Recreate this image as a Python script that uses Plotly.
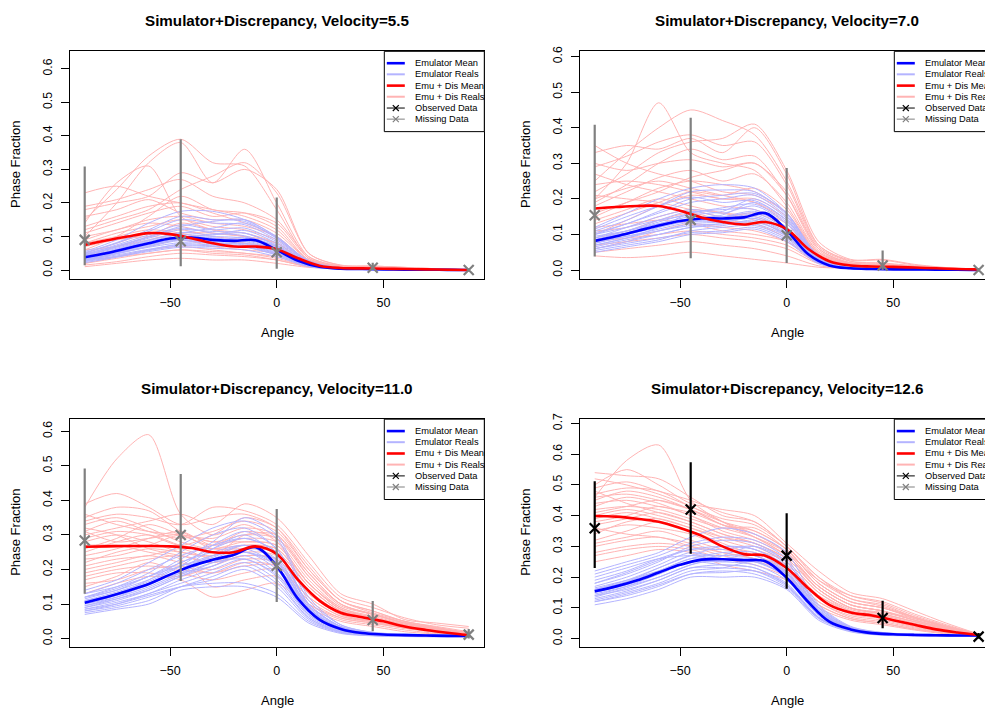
import plotly.graph_objects as go

FONT = "Liberation Sans, Arial, Helvetica, sans-serif"
W, H = 985, 711

# ---------------- data ----------------
mean_angles = [-90, -80, -70, -60, -50, -40, -30, -20, -10, 0, 10, 20, 30, 40, 50, 60, 70, 80, 90]
real_angles = [-90, -75, -60, -45, -30, -15, 0, 15, 30, 45, 60, 75, 90]
obs_angles = [-90, -45, 0, 45, 90]
velocities = ["5.5", "7.0", "11.0", "12.6"]
legend_labels = ["Emulator Mean", "Emulator Reals", "Emu + Dis Mean", "Emu + Dis Reals",
                 "Observed Data", "Missing Data"]
x_ticks = [-50, 0, 50]

# ---- Velocity 5.5 ----
v55_emu_mean = [.038, .05, .065, .08, .094, .097, .09, .087, .089, .06, .028, .01, .004, .003, .002, .001, .001, .0005, 0]
v55_dis_mean = [.075, .088, .10, .11, .107, .095, .08, .07, .07, .062, .035, .013, .006, .005, .004, .003, .002, .001, 0]
v55_emu_reals = [
    [.030, .045, .062, .075, .072, .070, .045, .012, .003, .002, .001, .001, 0],
    [.045, .068, .095, .120, .115, .110, .075, .022, .005, .003, .002, .001, 0],
    [.025, .040, .055, .068, .065, .060, .040, .010, .003, .002, .001, .001, 0],
    [.050, .080, .115, .150, .140, .135, .090, .025, .006, .003, .002, .001, 0],
    [.035, .055, .078, .095, .088, .092, .062, .018, .004, .003, .001, .001, 0],
    [.040, .060, .085, .105, .100, .095, .066, .020, .005, .003, .002, .001, 0],
    [.028, .048, .070, .088, .078, .080, .055, .016, .004, .002, .001, .001, 0],
    [.055, .090, .140, .175, .175, .150, .100, .028, .006, .004, .002, .001, 0],
    [.033, .050, .068, .082, .085, .098, .070, .020, .004, .003, .001, .001, 0],
    [.042, .065, .090, .110, .125, .140, .095, .026, .006, .003, .002, .001, 0],
    [.030, .052, .075, .090, .080, .075, .050, .014, .003, .002, .001, .001, 0],
    [.048, .072, .100, .130, .145, .150, .098, .027, .006, .004, .002, .001, 0],
    [.022, .038, .058, .072, .070, .068, .045, .012, .003, .002, .001, .001, 0],
    [.038, .062, .088, .112, .105, .118, .080, .022, .005, .003, .002, .001, 0],
    [.036, .058, .082, .100, .096, .085, .058, .016, .004, .002, .001, .001, 0],
    [.044, .070, .098, .125, .110, .102, .070, .020, .005, .003, .002, .001, 0],
    [.032, .050, .072, .092, .090, .088, .060, .017, .004, .002, .001, .001, 0],
    [.046, .075, .105, .135, .120, .125, .085, .024, .005, .003, .002, .001, 0],
    [.027, .042, .060, .078, .075, .072, .048, .013, .003, .002, .001, .001, 0],
    [.039, .058, .080, .098, .105, .110, .072, .020, .005, .003, .001, .001, 0],
    [.052, .082, .120, .160, .150, .145, .095, .026, .006, .003, .002, .001, 0],
    [.034, .054, .076, .094, .082, .078, .052, .015, .004, .002, .001, .001, 0],
]
v55_dis_reals = [
    [.10, .20, .32, .38, .26, .36, .20, .04, .012, .010, .007, .004, .001],
    [.15, .24, .34, .39, .32, .31, .18, .035, .012, .010, .006, .003, .001],
    [.14, .26, .31, .16, .12, .10, .07, .02, .008, .006, .004, .002, .001],
    [.23, .25, .22, .20, .18, .16, .12, .03, .010, .008, .005, .003, .001],
    [.18, .20, .22, .29, .26, .30, .24, .05, .015, .012, .008, .004, .001],
    [.06, .10, .16, .22, .18, .17, .13, .03, .010, .008, .005, .003, .001],
    [.02, .04, .06, .07, .06, .05, .04, .012, .005, .004, .003, .002, 0],
    [.01, .02, .03, .035, .03, .03, .02, .008, .004, .003, .002, .001, 0],
    [.09, .12, .14, .13, .11, .10, .08, .02, .008, .006, .004, .002, .001],
    [.05, .08, .11, .12, .10, .09, .07, .02, .007, .005, .003, .002, 0],
    [.03, .05, .07, .09, .07, .06, .05, .015, .006, .005, .003, .002, 0],
    [.13, .16, .19, .20, .17, .14, .10, .025, .010, .007, .005, .002, .001],
    [.015, .025, .04, .05, .045, .04, .03, .01, .005, .004, .002, .001, 0],
    [.07, .09, .10, .09, .08, .07, .06, .018, .007, .005, .003, .002, 0],
    [.11, .14, .17, .19, .16, .17, .14, .035, .010, .008, .005, .003, .001],
    [.04, .06, .08, .10, .09, .08, .06, .018, .007, .006, .004, .002, 0],
    [.08, .11, .13, .15, .13, .12, .09, .022, .008, .006, .004, .002, .001],
    [.02, .035, .05, .06, .055, .05, .035, .01, .005, .004, .003, .002, 0],
    [.19, .21, .24, .27, .22, .20, .15, .04, .012, .01, .006, .003, .001],
    [.12, .15, .18, .24, .28, .32, .23, .05, .014, .012, .008, .004, .001],
    [.06, .07, .09, .11, .11, .10, .08, .02, .008, .006, .004, .002, 0],
    [.03, .04, .05, .06, .05, .045, .03, .01, .005, .004, .003, .002, 0],
    [.16, .18, .21, .17, .15, .15, .11, .03, .01, .008, .005, .003, .001],
    [.10, .12, .15, .16, .14, .13, .10, .025, .009, .007, .004, .002, .001],
    [.04, .07, .10, .14, .12, .11, .08, .02, .008, .006, .004, .002, 0],
    [.08, .10, .12, .11, .09, .08, .065, .018, .007, .005, .003, .002, 0],
]
v55_obs = [.09, .086, .053, .007, .0]
v55_obs_hi = [.309, .39, .216, .022, .003]
v55_obs_lo = [.014, .011, .004, .0, .0]

# ---- Velocity 7.0 ----
v70_emu_mean = [.082, .095, .11, .125, .138, .145, .145, .148, .16, .112, .045, .013, .005, .003, .002, .002, .001, .001, 0]
v70_dis_mean = [.173, .177, .18, .18, .167, .148, .135, .128, .135, .115, .06, .025, .013, .01, .009, .007, .005, .003, .002]
v70_emu_reals = [
    [.06, .075, .09, .105, .11, .12, .085, .02, .004, .002, .001, .001, 0],
    [.10, .13, .16, .19, .20, .21, .15, .035, .006, .003, .002, .001, 0],
    [.07, .09, .11, .125, .13, .135, .10, .022, .005, .003, .002, .001, 0],
    [.12, .16, .20, .23, .24, .23, .16, .04, .007, .004, .002, .001, 0],
    [.05, .065, .08, .10, .105, .115, .08, .018, .004, .002, .001, .001, 0],
    [.085, .105, .13, .15, .15, .165, .12, .028, .005, .003, .002, .001, 0],
    [.09, .12, .15, .17, .16, .18, .13, .03, .006, .003, .002, .001, 0],
    [.075, .095, .115, .135, .14, .15, .11, .025, .005, .003, .002, .001, 0],
    [.11, .14, .18, .22, .225, .22, .155, .038, .007, .004, .002, .001, 0],
    [.065, .085, .10, .12, .125, .14, .095, .021, .004, .002, .001, .001, 0],
    [.08, .10, .12, .14, .155, .19, .14, .032, .006, .003, .002, .001, 0],
    [.095, .11, .13, .14, .135, .145, .105, .024, .005, .003, .002, .001, 0],
    [.07, .09, .12, .16, .17, .17, .12, .028, .005, .003, .002, .001, 0],
    [.10, .12, .14, .155, .165, .20, .145, .034, .006, .003, .002, .001, 0],
    [.055, .07, .085, .11, .12, .125, .09, .02, .004, .002, .001, .001, 0],
    [.085, .11, .14, .165, .15, .16, .115, .026, .005, .003, .002, .001, 0],
    [.09, .11, .135, .16, .175, .185, .135, .03, .006, .003, .002, .001, 0],
    [.06, .08, .10, .12, .13, .13, .095, .022, .004, .002, .001, .001, 0],
    [.105, .13, .165, .20, .21, .215, .16, .037, .007, .004, .002, .001, 0],
    [.075, .10, .125, .145, .145, .155, .11, .026, .005, .003, .002, .001, 0],
    [.08, .095, .11, .13, .135, .145, .10, .023, .005, .003, .002, .001, 0],
    [.115, .15, .18, .205, .19, .195, .14, .033, .006, .003, .002, .001, 0],
]
v70_dis_reals = [
    [.20, .30, .47, .33, .30, .28, .18, .05, .02, .015, .01, .005, .002],
    [.25, .33, .40, .45, .42, .38, .25, .07, .025, .02, .012, .006, .002],
    [.22, .27, .33, .36, .37, .41, .28, .08, .03, .03, .016, .007, .002],
    [.33, .35, .34, .37, .33, .40, .27, .07, .028, .028, .014, .006, .002],
    [.30, .28, .30, .31, .29, .30, .22, .06, .02, .015, .01, .005, .002],
    [.18, .22, .26, .28, .25, .27, .19, .05, .018, .013, .008, .004, .002],
    [.15, .19, .23, .25, .24, .22, .16, .045, .016, .012, .008, .004, .002],
    [.10, .14, .18, .21, .20, .19, .13, .035, .012, .01, .006, .003, .001],
    [.05, .06, .07, .08, .07, .06, .04, .012, .006, .005, .003, .002, .001],
    [.04, .035, .04, .05, .04, .03, .02, .008, .005, .004, .003, .002, .001],
    [.12, .13, .14, .13, .11, .10, .08, .025, .01, .008, .005, .003, .001],
    [.08, .09, .10, .11, .10, .09, .07, .02, .009, .007, .005, .003, .001],
    [.21, .20, .19, .17, .15, .16, .12, .035, .013, .01, .007, .004, .002],
    [.06, .08, .11, .13, .12, .11, .08, .022, .01, .008, .005, .003, .001],
    [.27, .24, .22, .20, .18, .17, .13, .04, .015, .012, .008, .004, .002],
    [.14, .17, .20, .18, .16, .14, .10, .03, .012, .01, .006, .003, .001],
    [.09, .11, .14, .16, .14, .13, .09, .025, .01, .008, .005, .003, .001],
    [.19, .24, .30, .34, .31, .32, .21, .055, .02, .015, .01, .005, .002],
    [.35, .30, .27, .25, .22, .21, .16, .045, .016, .012, .008, .004, .002],
    [.16, .19, .22, .26, .28, .30, .21, .06, .02, .015, .01, .005, .002],
    [.24, .25, .24, .22, .20, .20, .15, .04, .015, .011, .007, .004, .002],
    [.11, .12, .15, .17, .16, .15, .11, .03, .011, .009, .006, .003, .001],
    [.07, .08, .09, .10, .09, .08, .06, .018, .008, .006, .004, .002, .001],
    [.29, .32, .36, .38, .35, .36, .24, .065, .024, .018, .011, .006, .002],
    [.13, .16, .19, .22, .21, .23, .17, .045, .016, .012, .008, .004, .002],
    [.20, .23, .25, .23, .21, .19, .14, .04, .014, .011, .007, .004, .002],
]
v70_obs = [.154, .141, .098, .013, .0]
v70_obs_hi = [.408, .428, .287, .055, .003]
v70_obs_lo = [.038, .033, .0195, .0, .0]

# ---- Velocity 11.0 ----
v110_emu_mean = [.104, .12, .138, .158, .185, .21, .228, .243, .265, .21, .115, .055, .028, .016, .012, .01, .009, .008, .008]
v110_dis_mean = [.266, .267, .268, .268, .267, .262, .25, .25, .267, .245, .17, .11, .075, .062, .05, .035, .025, .017, .01]
v110_emu_reals = [
    [.07, .085, .10, .14, .15, .15, .12, .045, .015, .008, .006, .005, .005],
    [.14, .17, .22, .27, .32, .34, .29, .11, .04, .018, .013, .011, .01],
    [.09, .11, .14, .18, .21, .24, .19, .07, .025, .012, .009, .008, .007],
    [.12, .15, .19, .25, .30, .32, .26, .10, .035, .016, .012, .01, .009],
    [.08, .10, .13, .16, .19, .22, .17, .06, .02, .01, .008, .007, .006],
    [.11, .13, .17, .22, .25, .27, .23, .09, .03, .014, .011, .009, .008],
    [.10, .12, .15, .19, .23, .26, .21, .08, .028, .013, .01, .009, .008],
    [.13, .16, .20, .24, .27, .29, .25, .095, .033, .015, .011, .01, .009],
    [.075, .09, .11, .15, .17, .20, .15, .055, .018, .009, .007, .006, .006],
    [.12, .14, .18, .21, .24, .25, .22, .085, .03, .014, .011, .009, .008],
    [.095, .12, .16, .20, .26, .30, .24, .09, .03, .014, .01, .009, .008],
    [.085, .105, .13, .17, .20, .23, .18, .065, .022, .011, .008, .007, .007],
    [.105, .13, .16, .19, .21, .25, .20, .075, .026, .012, .009, .008, .007],
    [.13, .15, .18, .23, .28, .35, .30, .12, .04, .018, .013, .011, .01],
    [.09, .115, .145, .185, .22, .23, .185, .07, .024, .011, .009, .008, .007],
    [.115, .14, .17, .21, .235, .27, .225, .085, .03, .014, .011, .009, .008],
    [.08, .095, .12, .15, .18, .21, .16, .06, .02, .01, .008, .007, .006],
    [.12, .145, .18, .22, .26, .29, .25, .10, .035, .016, .012, .01, .009],
    [.10, .125, .155, .20, .24, .27, .22, .085, .03, .014, .01, .009, .008],
    [.085, .10, .125, .15, .16, .16, .13, .05, .017, .009, .007, .006, .006],
    [.11, .135, .165, .21, .27, .31, .26, .10, .035, .016, .012, .01, .009],
    [.095, .115, .14, .18, .22, .25, .21, .08, .028, .013, .01, .009, .008],
]
v110_dis_reals = [
    [.38, .52, .59, .36, .30, .33, .28, .16, .09, .06, .04, .03, .015],
    [.39, .42, .38, .33, .35, .36, .32, .20, .11, .08, .05, .035, .02],
    [.34, .36, .35, .33, .38, .37, .33, .22, .12, .09, .06, .04, .03],
    [.30, .32, .34, .36, .33, .39, .35, .24, .13, .10, .055, .045, .035],
    [.25, .28, .30, .27, .26, .27, .26, .15, .08, .06, .04, .025, .012],
    [.20, .22, .24, .22, .20, .23, .22, .12, .065, .05, .03, .02, .008],
    [.15, .18, .22, .19, .17, .19, .20, .10, .055, .04, .025, .015, .006],
    [.13, .16, .18, .17, .12, .14, .16, .09, .05, .035, .02, .013, .005],
    [.28, .30, .28, .25, .24, .30, .30, .19, .10, .07, .045, .03, .015],
    [.22, .25, .27, .30, .28, .28, .27, .16, .085, .06, .04, .028, .013],
    [.32, .30, .26, .24, .22, .25, .24, .14, .075, .055, .035, .022, .01],
    [.18, .20, .21, .20, .19, .21, .21, .11, .06, .045, .03, .02, .008],
    [.36, .33, .31, .30, .29, .32, .30, .18, .095, .07, .045, .03, .015],
    [.27, .27, .25, .23, .15, .17, .18, .10, .06, .045, .03, .018, .007],
    [.24, .26, .29, .31, .27, .29, .28, .17, .09, .065, .042, .028, .012],
    [.17, .19, .19, .18, .21, .24, .23, .13, .07, .05, .033, .021, .009],
    [.31, .34, .31, .29, .31, .34, .31, .20, .11, .075, .05, .032, .016],
    [.21, .23, .24, .26, .23, .26, .25, .15, .08, .058, .038, .025, .011],
    [.26, .29, .33, .30, .27, .31, .29, .18, .10, .07, .045, .03, .014],
    [.33, .35, .32, .28, .26, .28, .27, .16, .085, .06, .04, .027, .012],
    [.19, .21, .23, .24, .22, .24, .23, .13, .07, .05, .032, .021, .009],
    [.29, .31, .30, .27, .30, .35, .32, .21, .11, .08, .05, .033, .017],
    [.23, .24, .26, .25, .24, .27, .26, .16, .085, .062, .04, .026, .012],
    [.35, .38, .37, .31, .28, .30, .29, .19, .10, .072, .047, .031, .015],
    [.16, .17, .20, .21, .19, .22, .21, .12, .065, .048, .031, .02, .008],
    [.31, .28, .29, .30, .26, .26, .25, .15, .08, .058, .037, .024, .011],
]
v110_obs = [.284, .300, .211, .054, .0115]
v110_obs_hi = [.492, .476, .375, .109, .028]
v110_obs_lo = [.130, .167, .106, .021, .0]

# ---- Velocity 12.6 ----
v126_emu_mean = [.154, .17, .19, .215, .24, .257, .258, .255, .252, .198, .12, .055, .03, .018, .014, .012, .011, .01, .01]
v126_dis_mean = [.399, .397, .39, .38, .36, .335, .30, .275, .27, .23, .165, .11, .085, .075, .06, .045, .03, .02, .012]
v126_emu_reals = [
    [.11, .13, .16, .20, .20, .20, .16, .06, .022, .011, .009, .008, .008],
    [.22, .25, .28, .33, .36, .34, .28, .11, .04, .02, .015, .013, .012],
    [.13, .155, .19, .23, .24, .23, .18, .07, .026, .013, .01, .009, .009],
    [.18, .21, .25, .30, .32, .31, .25, .10, .036, .018, .014, .012, .011],
    [.12, .14, .17, .21, .22, .21, .165, .065, .024, .012, .01, .009, .008],
    [.16, .19, .23, .27, .27, .27, .21, .085, .031, .016, .012, .011, .01],
    [.14, .17, .21, .25, .25, .24, .19, .075, .028, .014, .011, .01, .009],
    [.19, .22, .26, .29, .29, .30, .24, .095, .034, .017, .013, .012, .011],
    [.15, .18, .22, .26, .28, .28, .22, .088, .032, .016, .012, .011, .01],
    [.17, .20, .24, .28, .26, .25, .20, .08, .03, .015, .012, .011, .01],
    [.125, .15, .18, .22, .23, .25, .20, .08, .029, .014, .011, .01, .009],
    [.20, .23, .26, .27, .26, .26, .215, .085, .031, .016, .012, .011, .01],
    [.145, .17, .20, .24, .27, .30, .25, .10, .036, .018, .014, .012, .011],
    [.165, .19, .22, .25, .24, .23, .175, .068, .025, .013, .01, .009, .009],
    [.135, .165, .20, .24, .26, .27, .215, .085, .03, .015, .012, .011, .01],
    [.155, .185, .23, .27, .30, .29, .23, .09, .033, .017, .013, .012, .011],
    [.14, .16, .19, .23, .23, .22, .17, .068, .025, .013, .01, .009, .009],
    [.18, .215, .255, .29, .30, .29, .235, .092, .033, .017, .013, .012, .011],
    [.12, .145, .175, .21, .215, .22, .175, .068, .025, .012, .01, .009, .008],
    [.16, .185, .22, .26, .26, .255, .20, .08, .03, .015, .012, .011, .01],
    [.21, .24, .27, .31, .33, .32, .26, .105, .038, .019, .014, .012, .011],
    [.15, .175, .21, .25, .25, .26, .21, .083, .03, .015, .012, .011, .01],
]
v126_dis_reals = [
    [.46, .58, .63, .45, .38, .33, .27, .16, .10, .08, .055, .03, .013],
    [.54, .53, .52, .46, .40, .38, .30, .20, .13, .11, .07, .04, .014],
    [.50, .55, .50, .44, .42, .40, .31, .22, .15, .13, .09, .05, .015],
    [.45, .48, .46, .42, .37, .35, .29, .18, .12, .10, .07, .035, .013],
    [.40, .42, .40, .37, .33, .30, .25, .15, .09, .075, .05, .028, .012],
    [.35, .37, .36, .34, .30, .28, .24, .14, .085, .07, .045, .025, .011],
    [.30, .32, .33, .30, .27, .25, .22, .12, .07, .055, .035, .02, .009],
    [.25, .27, .29, .28, .24, .22, .19, .10, .06, .045, .028, .015, .007],
    [.48, .44, .41, .38, .34, .31, .26, .16, .10, .085, .06, .032, .012],
    [.38, .40, .43, .40, .35, .32, .27, .17, .11, .09, .06, .033, .013],
    [.32, .35, .38, .35, .31, .27, .23, .13, .08, .065, .04, .022, .01],
    [.43, .46, .44, .40, .36, .33, .28, .19, .14, .12, .08, .045, .014],
    [.28, .30, .31, .30, .28, .26, .21, .11, .065, .05, .03, .018, .008],
    [.52, .50, .47, .43, .38, .34, .28, .17, .11, .09, .065, .038, .013],
    [.36, .34, .33, .31, .28, .26, .23, .14, .09, .07, .045, .025, .011],
    [.42, .43, .42, .39, .36, .36, .29, .18, .12, .10, .065, .036, .013],
    [.34, .38, .39, .36, .32, .29, .25, .15, .095, .075, .05, .028, .012],
    [.47, .49, .48, .43, .39, .37, .30, .19, .13, .105, .07, .04, .014],
    [.44, .45, .43, .41, .37, .34, .28, .17, .11, .09, .06, .034, .013],
    [.37, .39, .41, .38, .34, .31, .26, .16, .10, .08, .055, .03, .012],
    [.49, .51, .48, .45, .41, .38, .30, .20, .14, .115, .075, .042, .014],
    [.31, .33, .35, .32, .29, .27, .22, .12, .075, .06, .038, .021, .009],
    [.41, .43, .45, .42, .37, .33, .27, .17, .11, .09, .06, .034, .013],
    [.27, .29, .30, .29, .26, .24, .20, .11, .065, .05, .032, .018, .008],
    [.39, .41, .39, .36, .33, .31, .26, .16, .10, .08, .055, .03, .012],
    [.46, .47, .45, .42, .38, .35, .29, .18, .12, .10, .068, .037, .013],
]
v126_obs = [.359, .420, .270, .067, .0065]
v126_obs_hi = [.512, .574, .408, .123, .018]
v126_obs_lo = [.230, .276, .162, .034, .0]

y_tick_vals = [[0, .1, .2, .3, .4, .5, .6], [0, .1, .2, .3, .4, .5, .6],
               [0, .1, .2, .3, .4, .5, .6], [0, .1, .2, .3, .4, .5, .6, .7]]

# ---------------- styling / layout ----------------
BLUE, LBLUE, RED, LRED = "#0000FF", "#B4B4FF", "#FF0000", "#FFB4B4"
GRAY, BLACK = "#808080", "#000000"

panels = [
    dict(emu_mean=v55_emu_mean, dis_mean=v55_dis_mean, emu_reals=v55_emu_reals, dis_reals=v55_dis_reals,
         obs=v55_obs, hi=v55_obs_hi, lo=v55_obs_lo, obs_col=GRAY,
         left=70, right=484.3, top=45.7, bottom=275, full_right=484.3, xr=[-96.9, 97.3], yr=[-0.0257, 0.652]),
    dict(emu_mean=v70_emu_mean, dis_mean=v70_dis_mean, emu_reals=v70_emu_reals, dis_reals=v70_dis_reals,
         obs=v70_obs, hi=v70_obs_hi, lo=v70_obs_lo, obs_col=GRAY,
         left=580, right=985, top=45.7, bottom=275, full_right=994.3, xr=[-96.9, 93.0], yr=[-0.0242, 0.6147]),
    dict(emu_mean=v110_emu_mean, dis_mean=v110_dis_mean, emu_reals=v110_emu_reals, dis_reals=v110_dis_reals,
         obs=v110_obs, hi=v110_obs_hi, lo=v110_obs_lo, obs_col=GRAY,
         left=70, right=484.3, top=416.7, bottom=646, full_right=484.3, xr=[-96.9, 97.3], yr=[-0.023, 0.635]),
    dict(emu_mean=v126_emu_mean, dis_mean=v126_dis_mean, emu_reals=v126_emu_reals, dis_reals=v126_dis_reals,
         obs=v126_obs, hi=v126_obs_hi, lo=v126_obs_lo, obs_col=BLACK,
         left=580, right=985, top=416.7, bottom=646, full_right=994.3, xr=[-96.9, 93.0], yr=[-0.0258, 0.714]),
]


def fx(p):
    return p / W


def fy(p):
    return 1 - p / H


fig = go.Figure()
layout = dict(width=W, height=H, margin=dict(l=0, r=0, t=0, b=0), showlegend=False,
              paper_bgcolor="white", plot_bgcolor="white", font=dict(family=FONT, color="black"))
shapes, annotations = [], []

for i, p in enumerate(panels):
    n = "" if i == 0 else str(i + 1)
    xa, ya = "x" + n, "y" + n
    for r in p["dis_reals"]:
        fig.add_trace(go.Scatter(x=real_angles, y=r, mode="lines", xaxis=xa, yaxis=ya,
                                 line=dict(color=LRED, width=1, shape="spline", smoothing=0.8),
                                 hoverinfo="skip"))
    for r in p["emu_reals"]:
        fig.add_trace(go.Scatter(x=real_angles, y=r, mode="lines", xaxis=xa, yaxis=ya,
                                 line=dict(color=LBLUE, width=1, shape="spline", smoothing=0.8),
                                 hoverinfo="skip"))
    fig.add_trace(go.Scatter(x=mean_angles, y=p["emu_mean"], mode="lines", xaxis=xa, yaxis=ya,
                             line=dict(color=BLUE, width=2.6, shape="spline", smoothing=1.0)))
    fig.add_trace(go.Scatter(x=mean_angles, y=p["dis_mean"], mode="lines", xaxis=xa, yaxis=ya,
                             line=dict(color=RED, width=2.6, shape="spline", smoothing=1.0)))
    up = [h - o for h, o in zip(p["hi"], p["obs"])]
    dn = [o - l for o, l in zip(p["obs"], p["lo"])]
    fig.add_trace(go.Scatter(x=obs_angles, y=p["obs"], mode="markers", xaxis=xa, yaxis=ya,
                             marker=dict(symbol="x-thin", size=10, color=p["obs_col"],
                                         line=dict(color=p["obs_col"], width=2.2)),
                             error_y=dict(type="data", symmetric=False, array=up, arrayminus=dn,
                                          color=p["obs_col"], thickness=2.2, width=0)))

    right_panel = i % 2 == 1
    layout["xaxis" + n] = dict(domain=[fx(p["left"]), fx(p["right"])], range=p["xr"], anchor=ya,
                               showgrid=False, zeroline=False, showline=True, linecolor="black",
                               linewidth=1, mirror=True, ticks="outside", ticklen=8, tickwidth=1,
                               tickcolor="black", tickvals=x_ticks, ticklabelstandoff=4,
                               tickfont=dict(size=12.5, family=FONT, color="black"))
    layout["yaxis" + n] = dict(domain=[fy(p["bottom"]), fy(p["top"])], range=p["yr"], anchor=xa,
                               showgrid=False, zeroline=False, showline=True, linecolor="black",
                               linewidth=1, mirror=not right_panel, ticks="outside", ticklen=8,
                               tickwidth=1, tickcolor="black", tickvals=y_tick_vals[i],
                               tickformat=".1f", tickangle=-90, ticklabelstandoff=4,
                               tickfont=dict(size=12.2, family=FONT, color="black"))

    cx = (p["left"] + p["full_right"]) / 2
    cy = (p["top"] + p["bottom"]) / 2
    annotations.append(dict(text="<b>Simulator+Discrepancy, Velocity=%s</b>" % velocities[i],
                            x=fx(cx), y=fy(p["top"] - 31), xref="paper", yref="paper",
                            xanchor="center", yanchor="middle", showarrow=False,
                            font=dict(size=15.2, family=FONT, color="black")))
    annotations.append(dict(text="Angle", x=fx(cx), y=fy(p["bottom"] + 54.5), xref="paper", yref="paper",
                            xanchor="center", yanchor="middle", showarrow=False,
                            font=dict(size=13, family=FONT, color="black")))
    annotations.append(dict(text="Phase Fraction", x=fx(p["left"] - 54), y=fy(cy), xref="paper",
                            yref="paper", xanchor="center", yanchor="middle", showarrow=False,
                            textangle=-90, font=dict(size=13, family=FONT, color="black")))

    # legend box (drawn manually, anchored top-right of the full plot region)
    lx0 = p["full_right"] - 100
    ly0 = p["top"]
    shapes.append(dict(type="rect", xref="paper", yref="paper", x0=fx(lx0), x1=fx(p["full_right"]),
                       y0=fy(ly0), y1=fy(ly0 + 81), line=dict(color="black", width=1),
                       fillcolor="white", layer="above"))
    rows = [12, 23.2, 34.6, 45.8, 57.2, 68.4]
    styles = [(BLUE, 2.6, False), (LBLUE, 2, False), (RED, 2.6, False), (LRED, 2, False),
              (BLACK, 1, True), (GRAY, 1, True)]
    for lab, ry, (col, lw, mk) in zip(legend_labels, rows, styles):
        yy = ly0 + ry
        shapes.append(dict(type="line", xref="paper", yref="paper", x0=fx(lx0 + 2.5), x1=fx(lx0 + 20.5),
                           y0=fy(yy), y1=fy(yy), line=dict(color=col, width=lw), layer="above"))
        if mk:
            mxc = lx0 + 11.5
            for dy in (-3, 3):
                shapes.append(dict(type="line", xref="paper", yref="paper", x0=fx(mxc - 3),
                                   x1=fx(mxc + 3), y0=fy(yy - dy), y1=fy(yy + dy),
                                   line=dict(color=col, width=1.2), layer="above"))
        annotations.append(dict(text=lab, x=fx(lx0 + 28.3), y=fy(yy), xref="paper", yref="paper",
                                xanchor="left", yanchor="middle", showarrow=False,
                                font=dict(size=9.3, family=FONT, color="black")))

layout["shapes"] = shapes
layout["annotations"] = annotations
fig.update_layout(**layout)
fig.write_html("out.html", config={"displayModeBar": False},
               post_script="document.body.style.margin='0px';document.body.style.overflow='hidden';")
